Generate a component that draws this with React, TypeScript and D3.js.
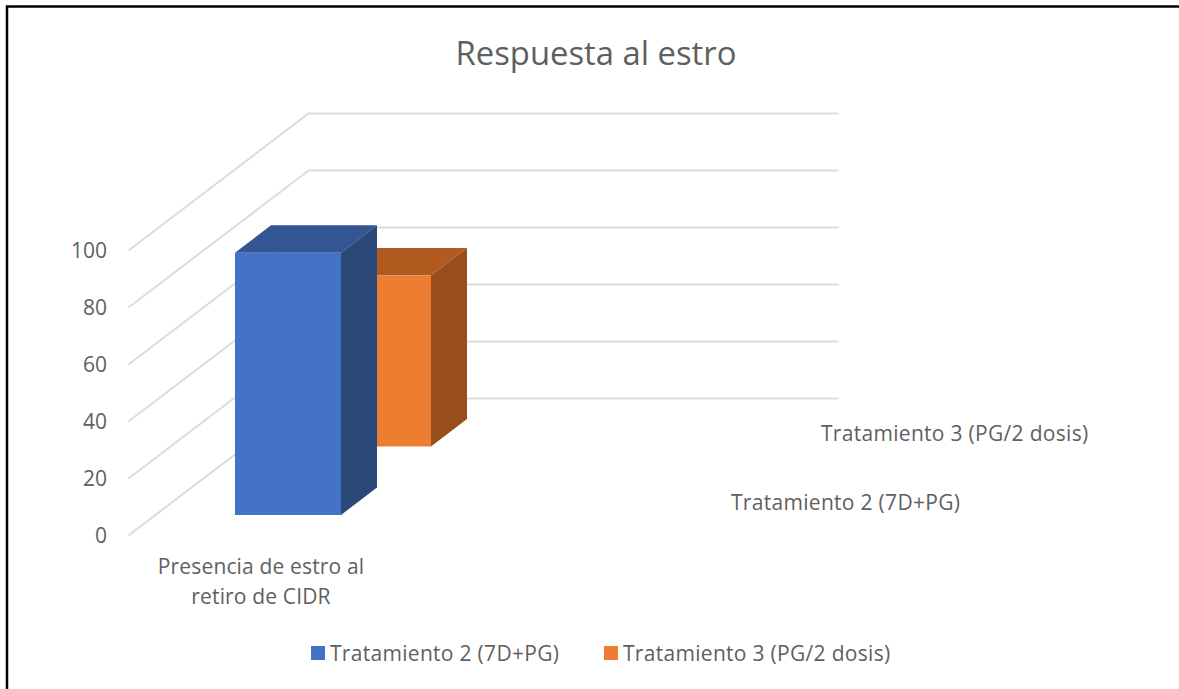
import React from "react";
import * as d3 from "d3";

const title = "Respuesta al estro";
// second category is blank in the original sheet, bars sit in the left half
const categories = ["Presencia de estro al retiro de CIDR", ""];
const seriesNames = ["Tratamiento 2 (7D+PG)", "Tratamiento 3 (PG/2 dosis)"];
const tratamiento2 = [92, null];
const tratamiento3 = [60, null];
const yTicks = [0, 20, 40, 60, 80, 100];
const categoryLines = [["Presencia de estro al", "retiro de CIDR"], []];

const seriesValues = [tratamiento2, tratamiento3];
const frontColors = ["#4472C4", "#ED7D31"];
const topColors = ["#335593", "#B25B20"];
const sideColors = ["#2A4979", "#984E1C"];

const W = 1179;
const H = 689;
const textColor = "#5f5f5f";
const font = "'Open Sans', 'Noto Sans', sans-serif";

// front-left corner of the floor and the oblique depth vector
const originX = 128.5;
const originY = 535.5;
const depthX = 180;
const depthY = -137;

const x = d3.scaleBand<string>().domain(categories).range([0, 530]).paddingInner(0.6).paddingOuter(0.3);
const y = d3.scaleLinear().domain([0, 100]).range([0, 285]);
const z = d3.scaleBand<string>().domain(seriesNames).range([0, 1]).paddingInner(0.6).paddingOuter(0.3);

// 3D -> screen: px along x, fraction of depth, value on y
const project = (px: number, t: number, v: number): [number, number] => [
  originX + px + depthX * t,
  originY + depthY * t - y(v),
];

const poly = (pts: [number, number][]) => d3.line()(pts) + "Z";

const App = () => {
  const floorWidth = x.range()[1];
  return (
    <svg
      width={W}
      height={H}
      style={{ position: "absolute", left: 0, top: 0, background: "#fff" }}
      fontFamily={font}
    >
      {/* outer frame, only top and left are in the crop */}
      <path d={`M7,${H}V6.5H${W}`} fill="none" stroke="#000" strokeWidth={2.5} />

      <text x={596} y={65} textAnchor="middle" fontSize={32.8} fill={textColor}>
        {title}
      </text>

      {/* gridlines: side wall and back wall */}
      {yTicks.map((t) => (
        <path
          key={t}
          d={d3.line()([project(0, 0, t), project(0, 1, t), project(floorWidth, 1, t)]) as string}
          fill="none"
          stroke="#DCDCDC"
          strokeWidth={2}
        />
      ))}

      {yTicks.map((t) => (
        <text key={t} x={107} y={project(0, 0, t)[1] + 0.5} dy="0.35em" textAnchor="end" fontSize={21} fill={textColor}>
          {t}
        </text>
      ))}

      {/* back series first so the front one covers it */}
      {seriesNames
        .map((name, i) => ({ name, i }))
        .reverse()
        .map(({ name, i }) =>
          categories.map((cat, c) => {
            const v = seriesValues[i][c];
            if (v == null) return null;
            const x0 = x(cat)!;
            const x1 = x0 + x.bandwidth();
            const t0 = z(name)!;
            const t1 = t0 + z.bandwidth();
            return (
              <g key={name + c}>
                <path
                  d={poly([project(x0, t0, v), project(x1, t0, v), project(x1, t1, v), project(x0, t1, v)])}
                  fill={topColors[i]}
                />
                <path
                  d={poly([project(x1, t0, 0), project(x1, t0, v), project(x1, t1, v), project(x1, t1, 0)])}
                  fill={sideColors[i]}
                />
                <path
                  d={poly([project(x0, t0, 0), project(x0, t0, v), project(x1, t0, v), project(x1, t0, 0)])}
                  fill={frontColors[i]}
                />
              </g>
            );
          })
        )}

      {/* category axis labels */}
      {categories.map((cat, c) =>
        categoryLines[c].map((line, k) => (
          <text
            key={line}
            x={originX + x(cat)! + x.bandwidth() / 2}
            y={567 + k * 30}
            dy="0.35em"
            textAnchor="middle"
            fontSize={21}
            letterSpacing={0.15}
            fill={textColor}
          >
            {line}
          </text>
        ))
      )}

      {/* series axis labels */}
      {seriesNames.map((name) => {
        const [px, py] = project(floorWidth, z(name)! + z.bandwidth() / 2, 0);
        return (
          <text key={name} x={px + 27.5} y={py + 1} dy="0.35em" fontSize={21} letterSpacing={0.3} fill={textColor}>
            {name}
          </text>
        );
      })}

      {/* legend */}
      {seriesNames.map((name, i) => {
        const lx = [311, 604][i];
        return (
          <g key={name}>
            <rect x={lx} y={646} width={14} height={14} fill={frontColors[i]} />
            <text x={lx + 19} y={654} dy="0.35em" fontSize={21} letterSpacing={0.3} fill={textColor}>
              {name}
            </text>
          </g>
        );
      })}
    </svg>
  );
};

export default App;
